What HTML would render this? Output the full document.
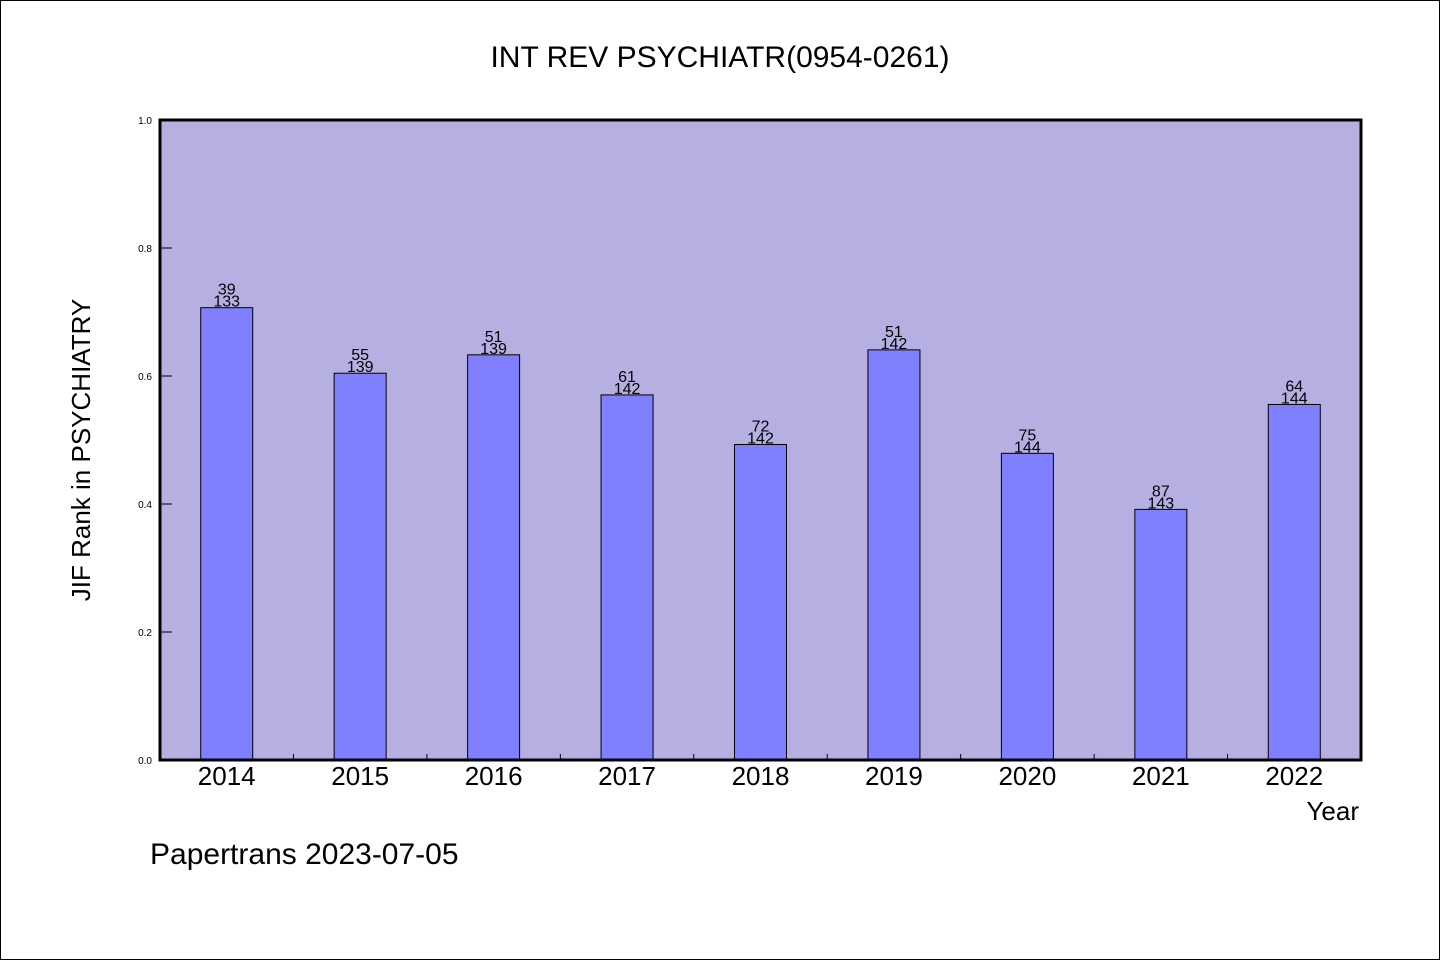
<!DOCTYPE html>
<html><head><meta charset="utf-8"><style>
html,body{margin:0;padding:0;background:#fff}
svg text{font-family:"WenQuanYi Zen Hei","Liberation Sans",sans-serif;fill:#000}
</style></head><body>
<svg id="chart" width="1440" height="960" viewBox="0 0 1440 960" xmlns="http://www.w3.org/2000/svg">
<rect x="0.5" y="0.5" width="1439" height="959" fill="#fff" stroke="#000" stroke-width="1"/>
<text x="720" y="67" text-anchor="middle" font-size="30">INT REV PSYCHIATR(0954-0261)</text>
<rect x="160" y="120" width="1201" height="640" fill="#b6b0e2"/>
<g id="yticks"></g>
<g id="bars"></g>
<rect x="160" y="120" width="1201" height="640" fill="none" stroke="#000" stroke-width="3"/>
<text transform="translate(90,450) rotate(-90)" text-anchor="middle" font-size="26">JIF Rank in PSYCHIATRY</text>
<text x="1359" y="820" text-anchor="end" font-size="26">Year</text>
<text x="150" y="864" font-size="30">Papertrans 2023-07-05</text>
</svg>
<script>
const years = ["2014","2015","2016","2017","2018","2019","2020","2021","2022"];
const ranks = [39,55,51,61,72,51,75,87,64];
const totals = [133,139,139,142,142,142,144,143,144];
const yTickLabels = ["0.0","0.2","0.4","0.6","0.8","1.0"];
const NS="http://www.w3.org/2000/svg";
const X0=160,X1=1361,Y0=760,Y1=120;
const band=(X1-X0)/years.length;
const yScale=v=>Y0-(v)*(Y0-Y1);
const xCenter=i=>X0+band*(i+0.5);
function mk(tag,attrs,parent){const e=document.createElementNS(NS,tag);for(const k in attrs)e.setAttribute(k,attrs[k]);parent.appendChild(e);return e;}
const yt=document.getElementById('yticks');
yTickLabels.forEach(l=>{
  const v=parseFloat(l),y=yScale(v);
  const t=mk('text',{x:152,y:y+4,'text-anchor':'end','font-size':10},yt);
  t.textContent=l;
  
  
  if(v>0&&v<1){const ln=mk('line',{x1:160,x2:172,y1:y,y2:y,stroke:'#000','stroke-width':1},yt);
  
  }
});
const bg=document.getElementById('bars');
for(let i=1;i<years.length;i++){
  const x=X0+band*i;
  const ln=mk('line',{x1:x,x2:x,y1:760,y2:754,stroke:'#000','stroke-width':1},bg);
  
  
}
years.forEach((yr,i)=>{
  const v=(totals[i]-ranks[i])/totals[i];
  const cx=xCenter(i),y=yScale(v);
  const r=mk('rect',{x:cx-26,y:y,width:52,height:Y0-y,fill:'#8080ff',stroke:'#000','stroke-width':1},bg);
  
  
  const t1=mk('text',{x:cx,y:y-13,'text-anchor':'middle','font-size':16},bg);
  t1.textContent=ranks[i];
  
  
  const t2=mk('text',{x:cx,y:y-1,'text-anchor':'middle','font-size':16},bg);
  t2.textContent=totals[i];
  
  
  const tx=mk('text',{x:cx,y:785,'text-anchor':'middle','font-size':26},bg);
  tx.textContent=yr;
  
  
});
</script>
</body></html>
